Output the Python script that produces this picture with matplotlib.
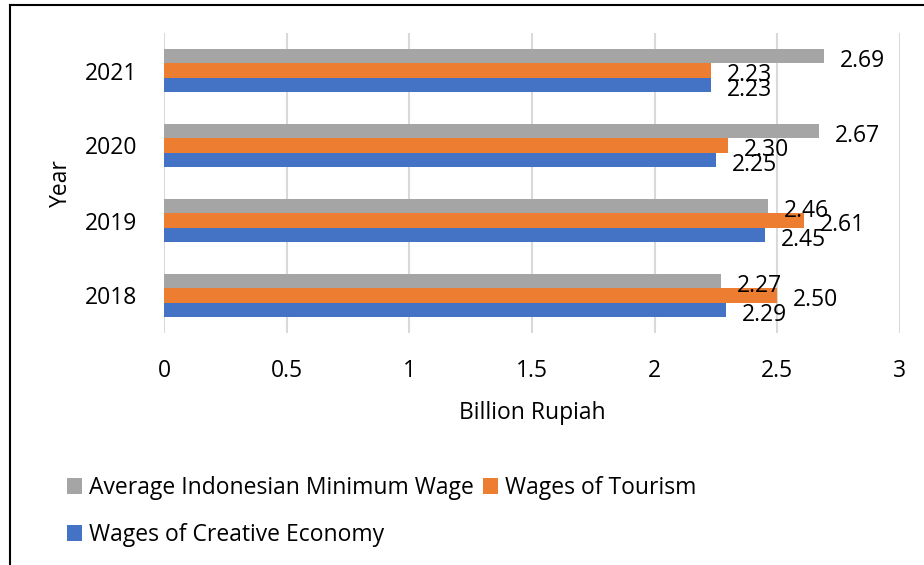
import matplotlib
matplotlib.use("Agg")
import matplotlib.pyplot as plt
from matplotlib.lines import Line2D
import numpy as np

years = ["2018", "2019", "2020", "2021"]
min_wage = [2.27, 2.46, 2.67, 2.69]
tourism = [2.50, 2.61, 2.30, 2.23]
creative = [2.29, 2.45, 2.25, 2.23]
series_names = ["Average Indonesian Minimum Wage", "Wages of Tourism", "Wages of Creative Economy"]
xticks = [0, 0.5, 1, 1.5, 2, 2.5, 3]
xtick_labels = ["0", "0.5", "1", "1.5", "2", "2.5", "3"]

plt.rcParams['font.family'] = ['Open Sans', 'DejaVu Sans']
FS = 16.5

W, H = 924, 565
fig = plt.figure(figsize=(W / 100, H / 100), dpi=100)
ax = fig.add_axes([164 / W, 1 - 333 / H, (900 - 164) / W, 300 / H])

colors = ["#A5A5A5", "#ED7D31", "#4472C4"]
y = np.arange(len(years))
bh = 0.19
offsets = [bh, 0, -bh]
bars_all = []
for vals, off, col, name in zip([min_wage, tourism, creative], offsets, colors, series_names):
    b = ax.barh(y + off, vals, height=bh, color=col, label=name, zorder=3)
    bars_all.append(b)
    for yi, v in zip(y + off, vals):
        ax.annotate(f"{v:.2f}", xy=(v, yi), xytext=(11.5, -3.5), textcoords="offset points",
                    ha="left", va="center", fontsize=FS, color="#000000", zorder=4)

ax.set_xlim(0, 3)
ax.set_ylim(-0.5, 3.5)
ax.set_xticks(xticks)
ax.set_xticklabels(xtick_labels)
ax.set_yticks(y)
ax.set_yticklabels(years)
ax.tick_params(axis="both", length=0, labelsize=FS, colors="#000000")
ax.tick_params(axis="y", pad=19)
ax.tick_params(axis="x", pad=19)
ax.grid(axis="x", color="#D9D9D9", linewidth=1.5, zorder=0)
for s in ax.spines.values():
    s.set_visible(False)
ax.set_xlabel("Billion Rupiah", fontsize=FS, labelpad=12.5)
ax.set_ylabel("Year", fontsize=FS, labelpad=9)

handles = [bars_all[0], bars_all[2], bars_all[1]]
labels = [series_names[0], series_names[2], series_names[1]]
fig.legend(handles, labels, loc="upper left", bbox_to_anchor=(67 / W, 1 - 476 / H),
           ncol=2, frameon=False, fontsize=FS, handlelength=0.65, handleheight=0.65,
           handletextpad=0.3, columnspacing=0.4, labelspacing=1.0, borderaxespad=0, borderpad=0)

fig.add_artist(Line2D([10 / W, 1], [1 - 5 / H, 1 - 5 / H], color="#000000", lw=1.5, transform=fig.transFigure))
fig.add_artist(Line2D([10 / W, 10 / W], [0, 1 - 5 / H], color="#000000", lw=1.5, transform=fig.transFigure))

fig.savefig("out.png", dpi=100)
